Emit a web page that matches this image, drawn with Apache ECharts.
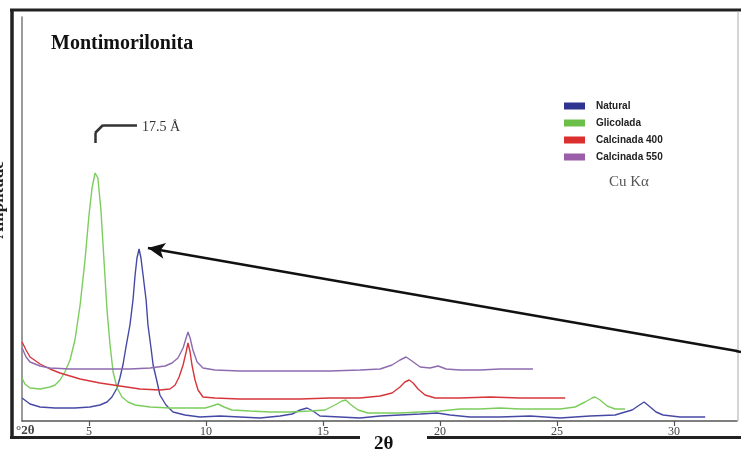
<!DOCTYPE html>
<html>
<head>
<meta charset="utf-8">
<script src="https://cdn.jsdelivr.net/npm/echarts@6/dist/echarts.min.js"></script>
<style>html,body{margin:0;padding:0;background:#fff}#c{width:741px;height:449px}</style>
</head>
<body>
<div id="c"></div>
<script>
// 2θ ticks
const tickValues = [5, 10, 15, 20, 25, 30];
const seriesNames = ['Natural', 'Glicolada', 'Calcinada 400', 'Calcinada 550'];

// Natural (blue)
const natX = [2.14,2.48,2.91,3.55,4.40,5.04,5.47,5.77,5.98,6.20,6.32,6.45,6.58,6.75,6.88,6.97,7.05,7.14,7.22,7.31,7.44,7.52,7.65,7.74,7.91,8.03,8.29,8.59,9.10,9.74,10.60,11.45,12.31,13.16,13.68,14.02,14.32,14.57,14.87,15.73,16.58,17.44,18.29,19.15,19.87,20.43,21.28,22.56,23.85,25.13,26.41,27.48,27.91,28.21,28.46,28.72,28.98,29.23,29.53,30.26,31.33];
const natY = [23,17,14,13,13,14,16,19,24,33,43,56,74,96,121,146,163,172,163,146,121,96,73,56,39,26,16,9,6,4,5,4,3,5,7,11,13,10,5,4,3,5,6,7,8,6,4,4,5,3,5,6,9,11,15,19,14,9,6,4,4];

// Glicolada (green)
const glyX = [2.14,2.26,2.48,2.91,3.33,3.55,3.76,3.97,4.19,4.40,4.62,4.83,5.00,5.13,5.26,5.30,5.38,5.51,5.64,5.77,5.90,6.03,6.20,6.41,6.67,6.97,7.61,8.46,9.32,9.96,10.26,10.51,10.77,11.11,11.88,12.74,13.59,14.44,15.09,15.51,15.81,15.98,16.15,16.50,16.92,17.44,18.29,19.15,20.00,20.85,21.71,22.56,23.42,24.27,25.13,25.77,26.20,26.50,26.62,26.84,27.14,27.48,27.91];
const glyY = [43,37,33,32,34,36,41,49,61,81,116,161,206,233,248,249,243,211,161,111,76,49,33,24,19,16,14,13,13,13,15,17,14,11,10,9,9,10,11,16,20,21,17,11,8,8,8,9,10,12,12,13,12,12,12,14,19,23,24,21,15,12,12];

// Calcinada 400 (red)
const c400X = [2.14,2.31,2.48,2.91,3.33,3.76,4.62,5.47,6.32,7.18,8.03,8.46,8.68,8.85,9.02,9.15,9.23,9.32,9.40,9.53,9.66,9.87,10.38,11.45,12.74,14.02,15.30,16.58,17.44,17.95,18.29,18.50,18.68,18.85,19.06,19.36,19.79,20.85,22.14,23.42,24.49,25.35];
const c400Y = [79,71,64,57,52,48,42,38,35,32,31,32,36,44,56,69,78,69,56,41,31,24,23,22,22,22,23,23,25,28,34,39,41,38,32,26,23,23,24,23,23,23];

// Calcinada 550 (purple)
const c550X = [2.14,2.31,2.48,2.91,3.33,4.19,5.47,6.75,7.61,8.25,8.55,8.80,9.02,9.15,9.23,9.32,9.44,9.62,9.87,10.38,11.45,12.74,14.02,15.30,16.58,17.44,17.95,18.29,18.55,18.80,19.15,19.57,19.92,20.26,20.85,21.71,22.56,23.42,23.97];
const c550Y = [73,64,59,55,53,52,52,52,53,55,58,63,73,83,89,83,71,59,53,51,50,50,50,50,51,52,56,61,64,60,54,53,55,52,51,51,52,52,52];

const lineColors = ['#4549a5', '#7ccd5e', '#d6363b', '#8d6bb0'];
const swatchColors = ['#2f3491', '#6cc04a', '#dc2f2f', '#9b5ea8'];

function pairs(xs, ys) { return xs.map((x, i) => [x, ys[i]]); }

const chart = echarts.init(document.getElementById('c'));
const serif = '"Liberation Serif", "Times New Roman", serif';

const mk = (name, xs, ys, i, extra) => Object.assign({
  name: name, type: 'line', data: pairs(xs, ys), showSymbol: false, symbol: 'none',
  lineStyle: { color: lineColors[i], width: 1.4 }, itemStyle: { color: swatchColors[i] },
  emphasis: { disabled: true }, clip: false, z: 3
}, extra || {});

chart.setOption({
  animation: false,
  backgroundColor: '#fff',
  grid: { left: 22, right: 4, top: 17, bottom: 28 },
  xAxis: {
    type: 'value', min: 2.137, max: 32.69,
    axisLine: { show: true, lineStyle: { color: '#555', width: 1.5 } },
    axisTick: { show: true, length: 5, customValues: tickValues, lineStyle: { color: '#555', width: 1.2 } },
    axisLabel: { customValues: tickValues, fontFamily: serif, fontSize: 12, color: '#444', margin: 5 },
    splitLine: { show: false }
  },
  yAxis: {
    type: 'value', min: 0, max: 404,
    axisLine: { show: true, lineStyle: { color: '#7a7a7a', width: 1.5 } },
    axisTick: { show: false }, axisLabel: { show: false }, splitLine: { show: false }
  },
  legend: {
    orient: 'vertical', left: 559, top: 95, itemWidth: 21, itemHeight: 7, itemGap: 5,
    icon: 'rect', selectedMode: false,
    textStyle: { fontFamily: '"Liberation Sans", Arial, sans-serif', fontWeight: 'bold', fontSize: 10, color: '#222', padding: [0, 0, 0, 6], lineHeight: 12 },
    data: seriesNames.map((n, i) => ({ name: n, itemStyle: { color: swatchColors[i] } }))
  },
  series: [
    mk('Natural', natX, natY, 0, {
      markLine: {
        silent: true, animation: false, label: { show: false }, emphasis: { disabled: true },
        lineStyle: { color: '#111', width: 2.5, type: 'solid' }, symbol: ['none', 'arrow'], symbolSize: [12, 17],
        data: [[{ coord: [32.69, 70] }, { coord: [7.52, 173] }]]
      }
    }),
    mk('Glicolada', glyX, glyY, 1, {
      markLine: {
        silent: true, animation: false, label: { show: false }, emphasis: { disabled: true },
        lineStyle: { color: '#333', width: 2.5, type: 'solid' }, symbol: ['none', 'none'],
        data: [
          [{ coord: [5.26, 278] }, { coord: [5.26, 288] }],
          [{ coord: [5.26, 288] }, { coord: [5.60, 296] }],
          [{ coord: [5.60, 296] }, { coord: [7.05, 296] }]
        ]
      }
    }),
    mk('Calcinada 400', c400X, c400Y, 2),
    mk('Calcinada 550', c550X, c550Y, 3)
  ],
  graphic: [
    { type: 'line', shape: { x1: 10, y1: 10, x2: 741, y2: 10 }, style: { stroke: '#222', lineWidth: 3 }, z: 10 },
    { type: 'line', shape: { x1: 12, y1: 9, x2: 12, y2: 439 }, style: { stroke: '#222', lineWidth: 3.5 }, z: 10 },
    { type: 'line', shape: { x1: 10, y1: 437.5, x2: 360, y2: 437.5 }, style: { stroke: '#222', lineWidth: 3 }, z: 10 },
    { type: 'line', shape: { x1: 427, y1: 437.5, x2: 741, y2: 437.5 }, style: { stroke: '#222', lineWidth: 3 }, z: 10 },
    { type: 'line', shape: { x1: 738, y1: 11, x2: 738, y2: 421 }, style: { stroke: '#aaa', lineWidth: 1 }, z: 10 },
    { type: 'line', shape: { x1: 736, y1: 351, x2: 741, y2: 352 }, style: { stroke: '#111', lineWidth: 2.5 }, z: 10 },
    { type: 'text', left: 51, top: 34, style: { text: 'Montimorilonita', font: 'bold 20px ' + serif, fill: '#111' } },
    { type: 'text', left: 142, top: 120, style: { text: '17.5 Å', font: '14px ' + serif, fill: '#333' } },
    { type: 'text', left: 609, top: 175, style: { text: 'Cu Kα', font: '15px ' + serif, fill: '#555' } },
    { type: 'text', left: 16, top: 424, style: { text: '°2θ', font: 'bold 13px ' + serif, fill: '#444' } },
    { type: 'text', left: 374, top: 435, style: { text: '2θ', font: 'bold 19px ' + serif, fill: '#111' } },
    { type: 'text', x: 7, y: 200, rotation: Math.PI / 2, style: { text: 'Amplitude', font: 'bold 17px ' + serif, fill: '#222', align: 'center', verticalAlign: 'bottom' } }
  ]
});
</script>
</body>
</html>
